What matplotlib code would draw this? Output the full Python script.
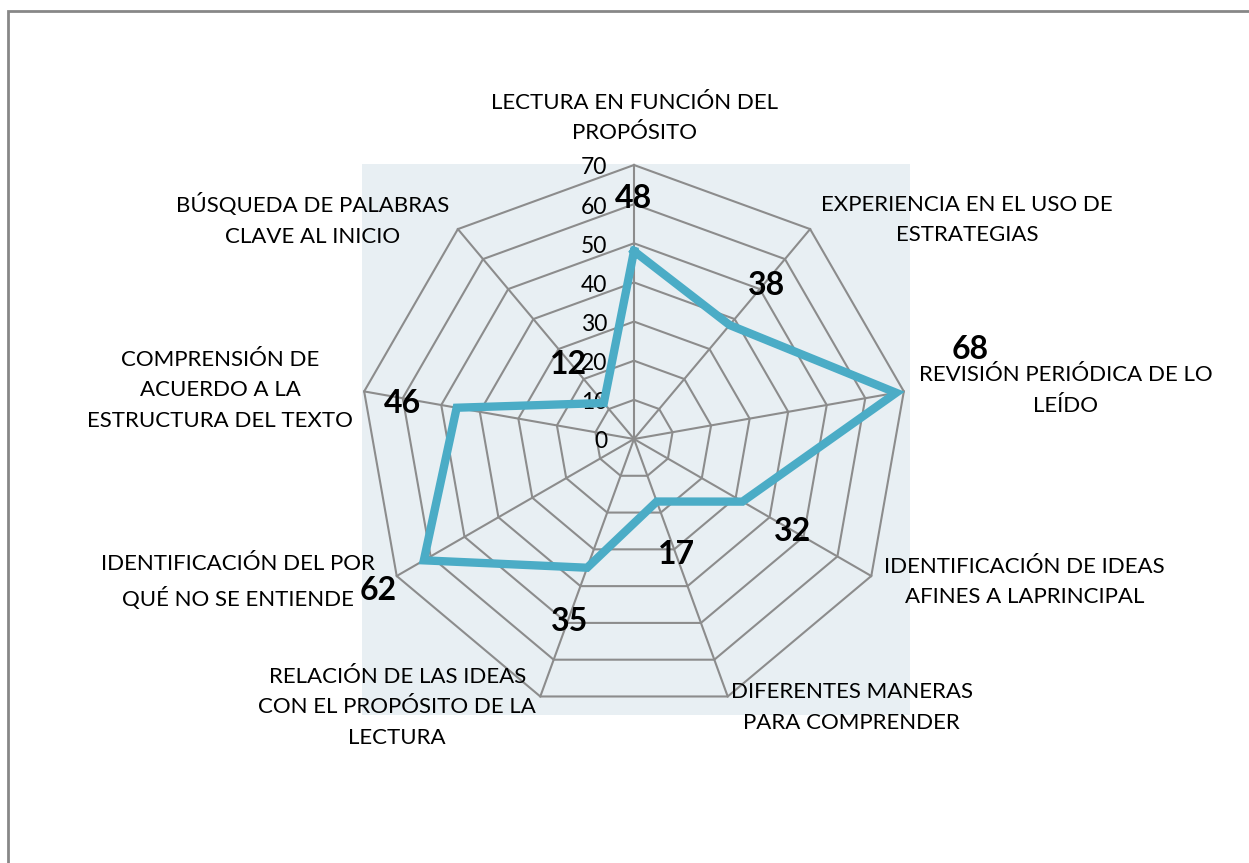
import numpy as np
import matplotlib.pyplot as plt
from matplotlib.patches import Rectangle

categorias = ["LECTURA EN FUNCIÓN DEL\nPROPÓSITO",
              "EXPERIENCIA EN EL USO DE\nESTRATEGIAS",
              "REVISIÓN PERIÓDICA DE LO\nLEÍDO",
              "IDENTIFICACIÓN DE IDEAS\nAFINES A LAPRINCIPAL",
              "DIFERENTES MANERAS\nPARA COMPRENDER",
              "RELACIÓN DE LAS IDEAS\nCON EL PROPÓSITO DE LA\nLECTURA",
              "IDENTIFICACIÓN DEL POR\nQUÉ NO SE ENTIENDE",
              "COMPRENSIÓN DE\nACUERDO A LA\nESTRUCTURA DEL TEXTO",
              "BÚSQUEDA DE PALABRAS\nCLAVE AL INICIO"]
valores = [48, 38, 68, 32, 17, 35, 62, 46, 12]
niveles = [0, 10, 20, 30, 40, 50, 60, 70]

plt.rcParams['font.family'] = ['Lato', 'DejaVu Sans']

n = len(categorias)
ang = np.deg2rad(np.arange(n) * 360 / n)
rmax = niveles[-1]

fig = plt.figure(figsize=(12.49, 8.63), dpi=100)
ax = fig.add_axes([0, 0, 1, 1])
esc = 274 / rmax  # pixeles por unidad
cx, cy = 634, 439
ax.set_xlim(-cx / esc, (1249 - cx) / esc)
ax.set_ylim(-(863 - cy) / esc, cy / esc)
ax.axis("off")

# borde del grafico
fig.patches.append(Rectangle((8 / 1249, -0.1), 1.2, (863 - 11) / 863 + 0.1,
                             transform=fig.transFigure, fill=False,
                             edgecolor="#878787", linewidth=2))

# fondo del area de trazado
ax.add_patch(Rectangle((-69.5, -70.5), 140.0, 140.8, facecolor="#E8EFF3",
                       edgecolor="none", zorder=0))

# rejilla poligonal
for r in niveles[1:]:
    xs = r * np.sin(np.append(ang, ang[0]))
    ys = r * np.cos(np.append(ang, ang[0]))
    ax.plot(xs, ys, color="#8C8C8C", lw=1.5, zorder=1)
for a in ang:
    ax.plot([0, rmax * np.sin(a)], [0, rmax * np.cos(a)], color="#8C8C8C", lw=1.5, zorder=1)

# etiquetas de escala
for r in niveles:
    ax.annotate(str(r), (0, r), xytext=(-27, -3), textcoords="offset pixels",
                ha="right", va="center", fontsize=16.5)

# serie
v = np.array(valores + [valores[0]])
a2 = np.append(ang, ang[0])
ax.plot(v * np.sin(a2), v * np.cos(a2), color="#4BACC6", lw=6,
        solid_joinstyle="miter", zorder=3)

# etiquetas de datos
off_datos = [(0, 53), (37, 40), (74, 43), (50, -30), (20, -53),
             (-18, -54), (-46, -30), (-54, 4), (-35, 39)]
for val, a, (dx, dy) in zip(valores, ang, off_datos):
    ax.annotate(str(val), (val * np.sin(a), val * np.cos(a)), xytext=(dx, dy),
                textcoords="offset pixels", ha="center", va="center",
                fontsize=23, fontweight="bold", zorder=4)

# etiquetas de categorias
off_cat = [(0, 47), (157, 9), (162, 1), (153, -6), (124, -11),
           (-143, -11), (-159, -6), (-144, 1), (-145, 9)]
for cat, a, (dx, dy) in zip(categorias, ang, off_cat):
    ax.annotate(cat, (rmax * np.sin(a), rmax * np.cos(a)), xytext=(dx, dy),
                textcoords="offset pixels", ha="center", va="center",
                fontsize=16, linespacing=1.65, zorder=4)

plt.savefig("out.png", dpi=100)
